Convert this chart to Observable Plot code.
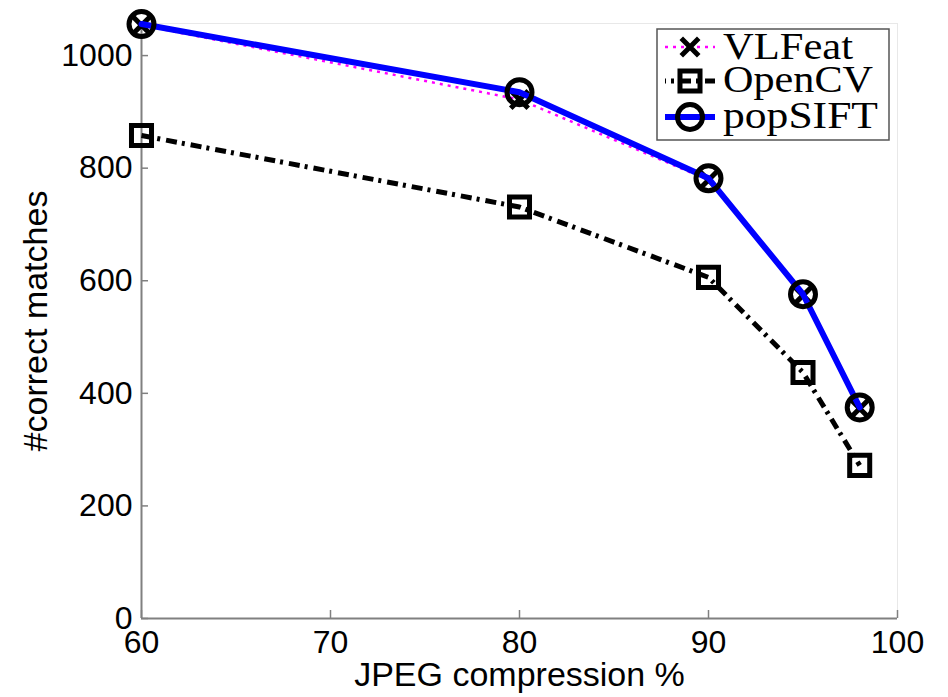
<!DOCTYPE html>
<html><head><meta charset="utf-8">
<script src="https://cdn.jsdelivr.net/npm/d3@7"></script>
<script src="https://cdn.jsdelivr.net/npm/@observablehq/plot@0.6"></script>
<style>body{margin:0;background:#fff} #chart{width:948px;height:697px}</style>
</head><body><div id="chart"></div>
<script>
// ---- data ----
const compression = [60, 80, 90, 95, 98];
const vlfeat  = [1054, 922, 779, 574, 373];
const opencv  = [858, 731, 606, 437, 272];
const popsift = [1056, 935, 782, 576, 375];
const xTicks = [60, 70, 80, 90, 100];
const yTicks = [0, 200, 400, 600, 800, 1000];
const seriesNames = ["VLFeat", "OpenCV", "popSIFT"];
const xLabel = "JPEG compression %";
const yLabel = "#correct matches";

const rows = vals => compression.map((c, i) => ({x: c, y: vals[i]}));
const vl = rows(vlfeat), ocv = rows(opencv), ps = rows(popsift);

const styles = {
  VLFeat:  {stroke: "#ff00ff", strokeWidth: 2.5, dash: "3,5", symbol: "times", r: 8, sw: 5},
  OpenCV:  {stroke: "#000000", strokeWidth: 5, dash: "11,5,3,6", symbol: "square", r: 11.3, sw: 5},
  popSIFT: {stroke: "#0000ff", strokeWidth: 6, dash: null, symbol: "circle", r: 12.5, sw: 5}
};

const axisColor = "#808080";
const plot = Plot.plot({
  width: 948, height: 697,
  marginLeft: 141, marginRight: 51, marginTop: 23, marginBottom: 79,
  style: {fontFamily: "'Liberation Sans', Arial, Helvetica, sans-serif", background: "white", overflow: "visible"},
  x: {domain: [60, 100]},
  y: {domain: [0, 1057]},
  marks: [
    Plot.ruleY([1057], {stroke: "#e8e8e8", strokeWidth: 1}),
    Plot.ruleX([100], {stroke: "#e8e8e8", strokeWidth: 1}),
    Plot.ruleX(xTicks, {x: d => d, y1: 0, y2: 0, insetBottom: 8, stroke: axisColor, strokeWidth: 1.5}),
    Plot.ruleY(yTicks, {y: d => d, x1: 60, x2: 60, insetRight: -7, stroke: axisColor, strokeWidth: 1.5}),
    Plot.ruleX([60], {stroke: axisColor, strokeWidth: 2}),
    Plot.ruleY([0], {stroke: axisColor, strokeWidth: 2}),
    Plot.axisX(xTicks, {tickSize: 0, tickPadding: 12, fontSize: 32, fill: "black", label: null, tickFormat: d => String(d)}),
    Plot.axisY(yTicks, {tickSize: 0, tickPadding: 9, fontSize: 32, fill: "black", label: null, tickFormat: d => String(d)}),
    Plot.text([xLabel], {text: d => d, frameAnchor: "bottom", textAnchor: "middle", lineAnchor: "bottom", dy: 67, fontSize: 34, fill: "black"}),
    Plot.text([yLabel], {text: d => d, frameAnchor: "left", textAnchor: "middle", lineAnchor: "bottom", rotate: -90, dx: -95, fontSize: 34, fill: "black"}),
    // VLFeat
    Plot.line(vl, {x: "x", y: "y", stroke: styles.VLFeat.stroke, strokeWidth: styles.VLFeat.strokeWidth, strokeDasharray: styles.VLFeat.dash, strokeLinecap: "butt"}),
    Plot.dot(vl, {x: "x", y: "y", symbol: "times", r: styles.VLFeat.r, stroke: "black", strokeWidth: styles.VLFeat.sw}),
    // OpenCV
    Plot.line(ocv, {x: "x", y: "y", stroke: styles.OpenCV.stroke, strokeWidth: styles.OpenCV.strokeWidth, strokeDasharray: styles.OpenCV.dash, strokeLinecap: "butt"}),
    Plot.dot(ocv, {x: "x", y: "y", symbol: "square", r: styles.OpenCV.r, stroke: "black", fill: "none", strokeWidth: styles.OpenCV.sw}),
    // popSIFT
    Plot.line(ps, {x: "x", y: "y", stroke: styles.popSIFT.stroke, strokeWidth: styles.popSIFT.strokeWidth}),
    Plot.dot(ps, {x: "x", y: "y", symbol: "circle", r: styles.popSIFT.r, stroke: "black", fill: "none", strokeWidth: styles.popSIFT.sw})
  ]
});
document.getElementById("chart").appendChild(plot);

// ---- legend (inside the axes, top right) ----
const svg = d3.select(plot);
const lg = svg.append("g").attr("text-anchor", "start");
lg.append("rect").attr("x", 657).attr("y", 29).attr("width", 232).attr("height", 111)
  .attr("fill", "white").attr("stroke", "#555").attr("stroke-width", 1.5);
const rowY = [47, 81, 117];
const baseY = [59, 92, 128];
const textLen = [130, 150, 155];
const symMap = {times: d3.symbolTimes, square: d3.symbolSquare, circle: d3.symbolCircle};
seriesNames.forEach((name, i) => {
  const s = styles[name];
  lg.append("line").attr("x1", 665).attr("x2", 715).attr("y1", rowY[i]).attr("y2", rowY[i])
    .attr("stroke", s.stroke).attr("stroke-width", s.strokeWidth)
    .attr("stroke-dasharray", s.dash).attr("stroke-dashoffset", name === "OpenCV" ? 10 : 0);
  lg.append("path").attr("transform", `translate(690,${rowY[i]})`)
    .attr("d", d3.symbol(symMap[s.symbol], s.r * s.r * Math.PI)())
    .attr("fill", "none").attr("stroke", "black").attr("stroke-width", s.sw);
  lg.append("text").attr("x", 723).attr("y", baseY[i]).text(name)
    .attr("text-anchor", "start")
    .attr("font-family", "'Liberation Serif', 'DejaVu Serif', serif").attr("font-size", 38)
    .attr("textLength", textLen[i]).attr("lengthAdjust", "spacingAndGlyphs").attr("fill", "black");
});
</script>
</body></html>
